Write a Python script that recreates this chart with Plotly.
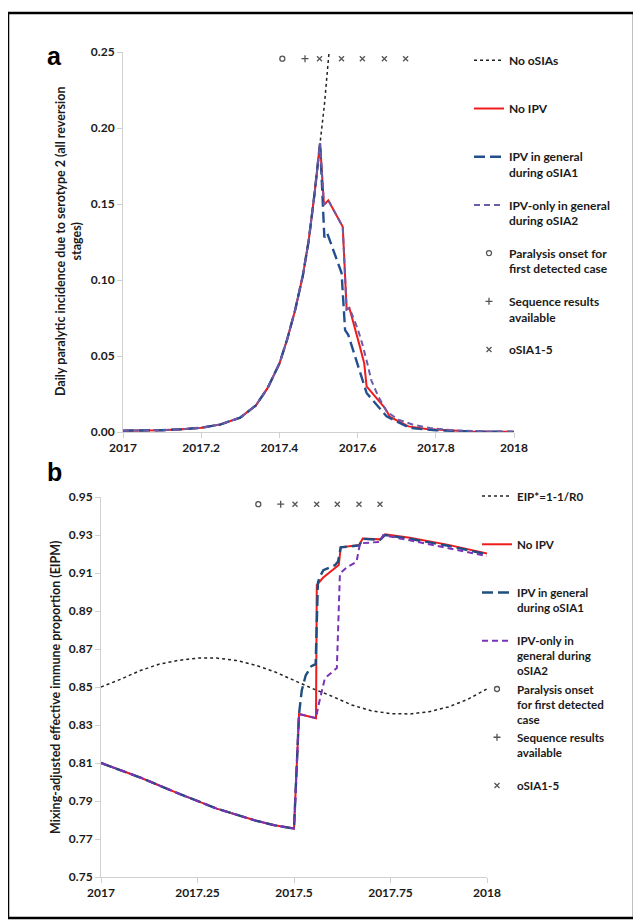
import plotly.graph_objects as go

# page body has an 8px margin: figure is drawn at (8, 8) in the window
OFF = 8
W, H = 633, 916

# ---------------- Panel a data ----------------
rise_t = [2017.00, 2017.05, 2017.10, 2017.15, 2017.20, 2017.25, 2017.30, 2017.34, 2017.37,
          2017.40, 2017.42, 2017.44, 2017.46, 2017.475, 2017.49, 2017.504]
rise_v = [0.0009, 0.0009, 0.0012, 0.0018, 0.0028, 0.0050, 0.0095, 0.0175, 0.0290,
          0.0450, 0.0610, 0.0800, 0.1030, 0.1260, 0.1570, 0.1900]

no_osia_t = [2017.515, 2017.527]
no_osia_v = [0.215, 0.250]

no_ipv_t = [2017.514, 2017.525, 2017.562, 2017.572, 2017.579, 2017.606, 2017.617, 2017.623,
            2017.670, 2017.683, 2017.730, 2017.776, 2017.887, 2018.0]
no_ipv_v = [0.1495, 0.1524, 0.1350, 0.0805, 0.0816, 0.0560, 0.0450, 0.0300,
            0.0158, 0.0099, 0.0037, 0.0020, 0.0004, 0.0001]

ipv1_t = [2017.515, 2017.522, 2017.559, 2017.568, 2017.576, 2017.623, 2017.674, 2017.734,
          2017.800, 2017.900, 2018.0]
ipv1_v = [0.1280, 0.1310, 0.1046, 0.0670, 0.0640, 0.0257, 0.0103, 0.0026,
          0.0012, 0.0003, 0.0001]

ipv2_t = [2017.514, 2017.525, 2017.562, 2017.572, 2017.579, 2017.600, 2017.612, 2017.625,
          2017.635, 2017.653, 2017.674, 2017.704, 2017.742, 2017.785, 2017.850, 2017.950, 2018.0]
ipv2_v = [0.1495, 0.1524, 0.1350, 0.0805, 0.0816, 0.0680, 0.0580, 0.0450,
          0.0340, 0.0234, 0.0136, 0.0081, 0.0048, 0.0026, 0.0010, 0.0003, 0.0001]

# event markers (shared by both panels)
onset_t = [2017.4075]
seq_t = [2017.4655]
osia_t = [2017.5026, 2017.5588, 2017.6122, 2017.6684, 2017.7228]
marker_y_a = 0.2456
marker_y_b = 0.9462

# ---------------- Panel b data ----------------
eip_t = [2017.00, 2017.05, 2017.10, 2017.15, 2017.20, 2017.25, 2017.30, 2017.35, 2017.40, 2017.45,
         2017.50, 2017.55, 2017.60, 2017.65, 2017.70, 2017.75, 2017.80, 2017.85, 2017.90, 2017.95, 2018.00]
eip_v = [0.8500, 0.8540, 0.8585, 0.8620, 0.8640, 0.8652, 0.8652, 0.8640, 0.8615, 0.8580,
         0.8535, 0.8490, 0.8450, 0.8405, 0.8375, 0.8360, 0.8358, 0.8370, 0.8395, 0.8435, 0.8490]

base_t = [2017.00, 2017.10, 2017.20, 2017.30, 2017.40, 2017.45, 2017.50, 2017.513]
base_v = [0.8100, 0.8025, 0.7940, 0.7860, 0.7797, 0.7772, 0.7755, 0.8358]

b_noipv_t = [2017.557, 2017.559, 2017.575, 2017.589, 2017.611, 2017.616, 2017.621, 2017.669,
             2017.678, 2017.723, 2017.736, 2017.800, 2017.900, 2018.0]
b_noipv_v = [0.8336, 0.9036, 0.9075, 0.9098, 0.9130, 0.9142, 0.9235, 0.9247,
             0.9282, 0.9277, 0.9304, 0.9285, 0.9248, 0.9203]

b_ipv1_t = [2017.520, 2017.530, 2017.545, 2017.556, 2017.562, 2017.567, 2017.576, 2017.606,
            2017.614, 2017.621, 2017.669, 2017.678, 2017.723, 2017.736, 2017.800, 2017.900, 2018.0]
b_ipv1_v = [0.8480, 0.8560, 0.8610, 0.8620, 0.9050, 0.9080, 0.9115, 0.9141,
            0.9160, 0.9235, 0.9245, 0.9280, 0.9275, 0.9300, 0.9280, 0.9243, 0.9198]

b_ipv2_t = [2017.557, 2017.563, 2017.580, 2017.611, 2017.619, 2017.637, 2017.662, 2017.671,
            2017.723, 2017.731, 2017.800, 2017.900, 2018.0]
b_ipv2_v = [0.8336, 0.8400, 0.8546, 0.8600, 0.9098, 0.9130, 0.9159, 0.9256,
            0.9264, 0.9299, 0.9272, 0.9232, 0.9189]

xa_ticks = [2017, 2017.2, 2017.4, 2017.6, 2017.8, 2018]
xa_text = ["2017", "2017.2", "2017.4", "2017.6", "2017.8", "2018"]
ya_ticks = [0.00, 0.05, 0.10, 0.15, 0.20, 0.25]
xb_ticks = [2017, 2017.25, 2017.5, 2017.75, 2018]
xb_text = ["2017", "2017.25", "2017.5", "2017.75", "2018"]
yb_ticks = [0.75, 0.77, 0.79, 0.81, 0.83, 0.85, 0.87, 0.89, 0.91, 0.93, 0.95]

NB = "\u00a0"
names_a = ["No oSIAs<br>" + NB, "No IPV<br>" + NB, "IPV in general<br>during oSIA1",
           "IPV-only in general<br>during oSIA2", "Paralysis onset for<br>first detected case",
           "Sequence results<br>available", "oSIA1-5<br>" + NB]
names_b = ["EIP*=1-1/R0<br>" + NB + "<br>" + NB, "No IPV<br>" + NB + "<br>" + NB,
           "IPV in general<br>during oSIA1<br>" + NB, "IPV-only in<br>general during<br>oSIA2",
           "Paralysis onset<br>for first detected<br>case", "Sequence results<br>available<br>" + NB,
           "oSIA1-5<br>" + NB + "<br>" + NB]

RED = "#f01c1c"
MK = "#555555"

fig = go.Figure()

def panel(xax, yax, leg, names, dotted_t, dotted_v, red_t, red_v, blue_t, blue_v, pur_t, pur_v, my, tag,
          blue_col, pur_col):
    fig.add_trace(go.Scatter(x=dotted_t, y=dotted_v, mode="lines", name=names[0],
                             line=dict(color="#222222", width=1.5, dash="dot"),
                             xaxis=xax, yaxis=yax, legend=leg, legendgroup=tag + "0"))
    fig.add_trace(go.Scatter(x=red_t, y=red_v, mode="lines", name=names[1],
                             line=dict(color=RED, width=2),
                             xaxis=xax, yaxis=yax, legend=leg, legendgroup=tag + "1"))
    fig.add_trace(go.Scatter(x=blue_t, y=blue_v, mode="lines", name=names[2],
                             line=dict(color=blue_col, width=2.4, dash="11px,5px"),
                             xaxis=xax, yaxis=yax, legend=leg, legendgroup=tag + "2"))
    fig.add_trace(go.Scatter(x=pur_t, y=pur_v, mode="lines", name=names[3],
                             line=dict(color=pur_col, width=2, dash="6px,4px"),
                             xaxis=xax, yaxis=yax, legend=leg, legendgroup=tag + "3"))
    fig.add_trace(go.Scatter(x=onset_t, y=[my] * len(onset_t), mode="markers", name=names[4],
                             marker=dict(symbol="circle-open", size=5, color=MK, line=dict(width=1.3)),
                             xaxis=xax, yaxis=yax, legend=leg, legendgroup=tag + "4"))
    fig.add_trace(go.Scatter(x=seq_t, y=[my] * len(seq_t), mode="markers", name=names[5],
                             marker=dict(symbol="cross-thin-open", size=5, color=MK, line=dict(width=1.3, color=MK)),
                             xaxis=xax, yaxis=yax, legend=leg, legendgroup=tag + "5"))
    fig.add_trace(go.Scatter(x=osia_t, y=[my] * len(osia_t), mode="markers", name=names[6],
                             marker=dict(symbol="x-thin-open", size=5, color=MK, line=dict(width=1.3, color=MK)),
                             xaxis=xax, yaxis=yax, legend=leg, legendgroup=tag + "6"))

# panel a
panel("x", "y", "legend", names_a,
      rise_t + no_osia_t, rise_v + no_osia_v,
      rise_t + no_ipv_t, rise_v + no_ipv_v,
      rise_t + ipv1_t, rise_v + ipv1_v,
      rise_t + ipv2_t, rise_v + ipv2_v, marker_y_a, "a", "#244f8f", "#6d5aa8")
# panel b
panel("x2", "y2", "legend2", names_b,
      eip_t, eip_v,
      base_t + b_noipv_t, base_v + b_noipv_v,
      base_t + b_ipv1_t, base_v + b_ipv1_v,
      base_t + b_ipv2_t, base_v + b_ipv2_v, marker_y_b, "b", "#1f4e80", "#7a33b8")

FONT = "Lato, 'Open Sans', sans-serif"
tickfont = dict(family=FONT, size=12, color="#1a1a1a", weight="bold")
axcommon = dict(showgrid=False, zeroline=False, showline=True, linecolor="#d0d0d0", linewidth=1,
                ticks="outside", tickcolor="#d0d0d0", ticklen=5, tickfont=tickfont, fixedrange=True,
                automargin=False)

def px2x(p):
    return (p - OFF) / W

def px2y(p):
    return 1 - (p - OFF) / H

legcommon = dict(bgcolor="rgba(0,0,0,0)", valign="top", xanchor="left", yanchor="top",
                 traceorder="grouped", itemwidth=30)

fig.update_layout(
    width=W, height=H, margin=dict(l=0, r=0, t=0, b=0, autoexpand=False),
    paper_bgcolor="white", plot_bgcolor="white", showlegend=True,
    xaxis=dict(domain=[px2x(123), px2x(514)], range=[2017, 2018], anchor="y",
               tickvals=xa_ticks, ticktext=xa_text, **axcommon),
    yaxis=dict(domain=[px2y(432), px2y(52)], range=[0, 0.25], anchor="x",
               tickvals=ya_ticks, tickformat=".2f", **axcommon),
    xaxis2=dict(domain=[px2x(101), px2x(487)], range=[2017, 2018], anchor="y2",
                tickvals=xb_ticks, ticktext=xb_text, **axcommon),
    yaxis2=dict(domain=[px2y(877), px2y(497)], range=[0.75, 0.95], anchor="x2",
                tickvals=yb_ticks, tickformat=".2f", **axcommon),
    legend=dict(x=px2x(469), y=px2y(46), tracegroupgap=14,
                font=dict(family=FONT, size=12, color="#1a1a1a", weight="bold"), **legcommon),
    legend2=dict(x=px2x(477), y=px2y(482), tracegroupgap=0,
                 font=dict(family=FONT, size=11.6, color="#1a1a1a", weight="bold"), **legcommon),
    annotations=[
        dict(text="a", x=px2x(55), y=px2y(56), xref="paper", yref="paper", showarrow=False,
             xanchor="center", yanchor="middle",
             font=dict(family="Liberation Sans, Arial", size=25, color="black", weight="bold")),
        dict(text="b", x=px2x(55), y=px2y(472), xref="paper", yref="paper", showarrow=False,
             xanchor="center", yanchor="middle",
             font=dict(family="Liberation Sans, Arial", size=25, color="black", weight="bold")),
        dict(text="Daily paralytic incidence due to serotype 2 (all reversion<br>stages)",
             x=px2x(68), y=px2y(242), xref="paper", yref="paper", showarrow=False, textangle=-90,
             xanchor="center", yanchor="middle",
             font=dict(family=FONT, size=12.5, color="#1a1a1a", weight="bold")),
        dict(text="Mixing-adjusted effective immune proportion (EIPM)",
             x=px2x(55), y=px2y(687), xref="paper", yref="paper", showarrow=False, textangle=-90,
             xanchor="center", yanchor="middle",
             font=dict(family=FONT, size=12.5, color="#1a1a1a", weight="bold")),
    ],
    shapes=[dict(type="rect", xref="paper", yref="paper", x0=px2x(8), x1=px2x(634),
                 y0=px2y(918), y1=px2y(13), line=dict(color="black", width=2.5))],
)

fig.write_html("out.html")
